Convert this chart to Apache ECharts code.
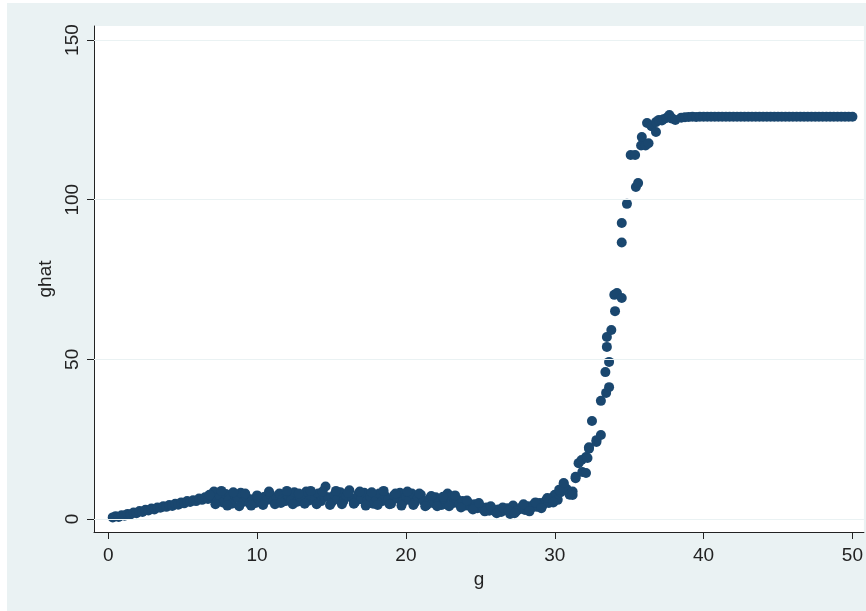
<!DOCTYPE html>
<html>
<head>
<meta charset="utf-8">
<script src="https://cdn.jsdelivr.net/npm/echarts@6/dist/echarts.min.js"></script>
<style>
  body { margin: 0; background: #fff; }
  #chart { position: absolute; left: 7px; top: 3px; width: 859px; height: 608px; background: #EAF2F3; }
</style>
</head>
<body>
<div id="chart"></div>
<script>
// tick labels
let xTicks = [0, 10, 20, 30, 40, 50];
let yTicks = [0, 50, 100, 150];

// low part, g 0 - 31
let gLow = [0.3, 0.5, 0.7, 0.9, 1.1, 1.3, 1.5, 1.7, 1.9, 2.1, 2.3, 2.5, 2.7, 2.9, 3.1, 3.3, 3.5, 3.7, 3.9, 4.1,
  4.3, 4.5, 4.7, 4.9, 5.1, 5.3, 5.5, 5.7, 5.9, 6.1, 6.3, 6.5,
  6.7, 6.9, 7.1, 7.3, 7.5, 7.7, 7.9, 8.1, 8.3, 8.5, 8.7, 8.9, 9.1, 9.3, 9.5, 9.7, 9.9, 10.1, 10.3, 10.5,
  10.7, 10.9, 11.1, 11.3, 11.5, 11.7, 11.9, 12.1, 12.3, 12.5, 12.7, 12.9, 13.1, 13.3, 13.5, 13.7, 13.9, 14.1,
  14.3, 14.5, 14.6, 14.8, 15.0, 15.2, 15.4, 15.6, 15.8, 16.0, 16.2, 16.4, 16.6, 16.8, 17.0, 17.2, 17.4, 17.6,
  17.8, 18.0, 18.2, 18.4, 18.6, 18.8, 19.0, 19.2, 19.4, 19.6, 19.8, 20.0, 20.2, 20.4, 20.6, 20.8, 21.0, 21.2,
  21.4, 21.6, 21.8, 22.0,
  22.2, 22.4, 22.6, 22.8, 23.0, 23.2, 23.4, 23.6, 23.8, 24.0, 24.2, 24.4, 24.6, 24.8, 25.0, 25.2, 25.4, 25.6,
  25.8, 26.0, 26.2, 26.4, 26.6, 26.8, 27.0, 27.2, 27.4, 27.6, 27.8, 28.0, 28.2, 28.4, 28.6, 28.8, 29.0, 29.2,
  29.4, 29.6, 29.8, 30.0, 30.2, 30.4, 30.6, 30.8, 31.0, 31.2];
let ghatLow = [0.5, 0.9, 0.6, 1.2, 1.0, 1.6, 1.4, 2.0, 1.8, 2.5, 2.2, 2.9, 2.7, 3.3, 3.0, 3.6, 3.5, 4.0, 3.8, 4.4,
  4.1, 4.8, 4.5, 5.2, 4.9, 5.6, 5.3, 5.9, 5.6, 6.4, 6.0, 6.8,
  6.3, 7.2, 8.6, 5.8, 7.0, 5.2, 7.8, 6.0, 4.8, 7.4, 6.6, 8.2, 5.4, 6.8, 4.9, 6.2, 5.0, 6.4, 5.4, 7.0,
  6.0, 7.6, 5.8, 6.6, 8.0, 6.2, 5.6, 7.2, 6.0, 8.4, 5.4, 7.0, 6.2, 8.6, 5.8, 7.4, 6.4, 8.0,
  5.6, 7.2, 10.2, 6.8, 5.2, 7.6, 6.2, 8.4, 5.6, 7.2, 9.0, 6.4, 5.4, 7.8, 6.2, 8.2, 5.8, 7.0,
  4.8, 6.6, 8.0, 5.6, 7.2, 6.0, 4.8, 7.4, 6.4, 8.2, 5.4, 7.0, 6.0, 8.0, 5.2, 6.8, 7.6, 5.6,
  4.4, 6.4, 5.0, 6.8,
  5.2, 4.4, 6.2, 8.0, 7.0, 5.0, 6.4, 4.6, 5.6, 4.2, 5.0, 3.6, 4.6, 3.4, 4.0, 3.0, 3.6, 2.6,
  3.2, 2.4, 3.0, 2.2, 2.8, 3.4, 1.6, 4.2, 2.4, 3.0, 3.8, 2.8, 4.0, 3.4, 4.6, 3.8, 5.0, 4.4,
  5.8, 5.0, 6.6, 7.6, 6.0, 8.4, 11.0, 9.4, 7.6, 8.6];

// the outer edge of the low band (high and low points)
let gEdge = [6.8, 7.2, 7.6, 8.0, 8.4, 8.8, 9.2, 9.6, 10.0, 10.4, 10.8, 11.2, 11.6, 12.0, 12.4, 12.8, 13.2, 13.6,
  14.0, 14.4, 14.9, 15.3, 15.7, 16.1, 16.5, 16.9, 17.3, 17.7, 18.1, 18.5, 18.9, 19.3, 19.7, 20.1, 20.5, 20.9,
  21.3, 21.7, 22.1, 22.5, 22.9, 23.3, 23.7, 24.1, 24.5, 24.9, 25.3, 25.7, 26.1, 26.5, 26.9, 27.3, 27.9, 28.3,
  28.7, 29.1, 29.5, 29.9, 30.3];
let ghatEdge = [7.6, 4.6, 8.8, 4.2, 8.4, 4.0, 8.0, 4.2, 7.4, 4.4, 8.6, 4.6, 5.0, 8.8, 4.6, 8.0, 4.8, 8.8,
  4.6, 8.6, 4.4, 8.8, 4.6, 8.2, 4.8, 8.6, 4.2, 8.4, 4.4, 8.8, 4.6, 8.0, 4.2, 8.6, 4.4, 8.0,
  4.0, 7.2, 4.0, 7.0, 4.0, 7.4, 3.6, 5.8, 3.0, 5.0, 2.4, 4.0, 1.8, 3.6, 2.6, 1.8, 4.6, 2.4,
  5.2, 3.4, 6.6, 5.2, 9.2];

// steep rise, g 30 - 38
let gRise = [30.6, 31.2, 31.4, 31.4, 31.6, 31.8, 31.85, 32.1, 32.1, 32.2, 32.3, 32.3, 32.5, 32.8, 32.8, 33.1,
  33.1, 33.45, 33.65, 33.4, 33.65, 33.5, 33.5, 33.8, 34.05, 34.0, 34.18, 34.5, 34.5, 34.5, 34.85, 35.45,
  35.6, 35.1, 35.4, 35.8, 35.85, 36.1, 36.3, 36.2, 36.5, 36.8, 36.8, 37.0, 37.2, 37.3, 37.5, 37.7, 37.9, 38.1];
let ghatRise = [11.3, 7.5, 12.8, 13.2, 17.5, 18.5, 14.7, 14.4, 19.4, 19.1, 22.5, 22.0, 30.7, 24.1, 24.7, 26.3,
  37.0, 39.5, 41.3, 46.0, 49.2, 53.9, 57.0, 59.2, 65.1, 70.2, 70.8, 69.2, 86.6, 92.7, 98.7, 104.0,
  105.2, 114.0, 114.0, 117.0, 119.6, 117.0, 117.7, 124.0, 123.0, 124.3, 121.2, 125.0, 124.8, 125.2, 125.6, 126.5, 125.4, 125.0];

// flat top, g 38 - 50
let gFlat = [38.5, 38.75, 39.0, 39.25, 39.5, 39.75, 40.0, 40.25, 40.5, 40.75, 41.0, 41.25, 41.5, 41.75, 42.0,
  42.25, 42.5, 42.75, 43.0, 43.25, 43.5, 43.75, 44.0, 44.25, 44.5, 44.75, 45.0, 45.25, 45.5, 45.75, 46.0,
  46.25, 46.5, 46.75, 47.0, 47.25, 47.5, 47.75, 48.0, 48.25, 48.5, 48.75, 49.0, 49.25, 49.5, 49.75, 50.0];
let ghatFlat = [125.7, 125.8, 125.9, 126.0, 125.9, 126.0, 126.0, 126.0, 126.0, 126.0, 126.0, 126.0, 126.0, 126.0, 126.0,
  126.0, 126.0, 126.0, 126.0, 126.0, 126.0, 126.0, 126.0, 126.0, 126.0, 126.0, 126.0, 126.0, 126.0, 126.0, 126.0,
  126.0, 126.0, 126.0, 126.0, 126.0, 126.0, 126.0, 126.0, 126.0, 126.0, 126.0, 126.0, 126.0, 126.0, 126.0, 126.0];

let points = [];
[[gLow, ghatLow], [gEdge, ghatEdge], [gRise, ghatRise], [gFlat, ghatFlat]].forEach(pair => {
  pair[0].forEach((g, i) => {
    points.push([g, pair[1][i]]);
  });
});

let FONT = 'Liberation Sans, Arial, sans-serif';

let myChart = echarts.init(document.getElementById('chart'));

let option = {
  animation: false,
  grid: {
    left: 87,
    top: 23,
    right: 0,
    bottom: 79,
    show: true,
    backgroundColor: '#fff',
    borderWidth: 0
  },
  xAxis: {
    type: 'value',
    min: -0.958,
    max: 50.77,
    name: 'g',
    nameLocation: 'middle',
    nameGap: 32,
    nameTextStyle: { fontSize: 19, fontFamily: FONT, color: '#222' },
    axisLine: { show: true, onZero: false, lineStyle: { color: '#222', width: 1 } },
    axisTick: { show: true, length: 7, customValues: xTicks, lineStyle: { color: '#222' } },
    axisLabel: { customValues: xTicks, fontSize: 19, fontFamily: FONT, color: '#222', margin: 14 },
    splitLine: { show: false }
  },
  yAxis: {
    type: 'value',
    min: -4.07,
    max: 154.4,
    name: 'ghat',
    nameLocation: 'middle',
    nameGap: 39,
    nameTextStyle: { fontSize: 19, fontFamily: FONT, color: '#222' },
    axisLine: { show: true, onZero: false, lineStyle: { color: '#222', width: 1 } },
    axisTick: { show: true, length: 7, customValues: yTicks, lineStyle: { color: '#222' } },
    axisLabel: { customValues: yTicks, rotate: 90, fontSize: 19, fontFamily: FONT, color: '#222', margin: 12 },
    splitLine: { show: false }
  },
  series: [
    {
      type: 'line',
      data: [],
      z: 1,
      silent: true,
      markLine: {
        silent: true,
        symbol: 'none',
        label: { show: false },
        lineStyle: { color: '#EAF2F3', width: 1, type: 'solid' },
        data: yTicks.map(v => ({ yAxis: v }))
      }
    },
    {
      type: 'scatter',
      z: 2,
      symbolSize: 10,
      itemStyle: { color: '#1A476F', opacity: 1 },
      data: points
    }
  ]
};

myChart.setOption(option);
</script>
</body>
</html>
